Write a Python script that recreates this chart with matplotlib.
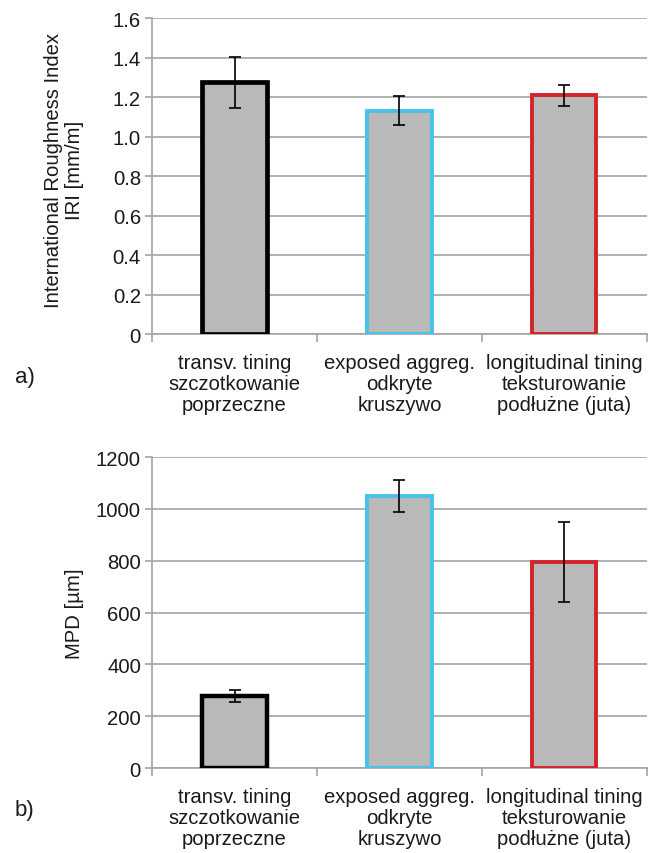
import matplotlib
matplotlib.use('Agg')
from matplotlib import pyplot as plt
import numpy as np

categories = ['transv. tining\nszczotkowanie\npoprzeczne',
              'exposed aggreg.\nodkryte\nkruszywo',
              'longitudinal tining\nteksturowanie\npodłużne (juta)']
iri = [1.275, 1.13, 1.21]
iri_err = [0.13, 0.073, 0.053]
mpd = [278, 1048, 795]
mpd_err = [23, 62, 155]
iri_ticks = [0, 0.2, 0.4, 0.6, 0.8, 1.0, 1.2, 1.4, 1.6]
iri_tick_labels = ['0', '0.2', '0.4', '0.6', '0.8', '1.0', '1.2', '1.4', '1.6']
mpd_ticks = [0, 200, 400, 600, 800, 1000, 1200]
edge_colors = ['#000000', '#45c3e8', '#d3242c']

plt.rcParams['font.family'] = ['Liberation Sans', 'DejaVu Sans']
grid_col = '#a3a3a3'
text_col = '#1a1a1a'
fs = 14.6


def draw_panel(ax, values, errors, ticks, tick_labels, ylabel, lw_edges, label_pos):
    x = np.arange(1, len(values) + 1)
    for xi, v, e, c, lw in zip(x, values, errors, edge_colors, lw_edges):
        ax.bar(xi, v, width=0.39, color='#b9b9b9', edgecolor=c, linewidth=lw, zorder=3)
        ax.errorbar(xi, v, yerr=e, fmt='none', ecolor='black', elinewidth=1.2,
                    capsize=4.5, capthick=1.2, zorder=4)
    ax.set_xlim(0.5, len(values) + 0.5)
    ax.set_ylim(ticks[0], ticks[-1])
    ax.set_yticks(ticks)
    ax.set_yticklabels(tick_labels)
    ax.yaxis.grid(True, color=grid_col, linewidth=1.2, zorder=0)
    ax.set_axisbelow(True)
    # boundaries between categories get the ticks, labels sit in the middle
    ax.set_xticks(np.arange(0.5, len(values) + 1, 1.0))
    ax.set_xticklabels([])
    ax.set_xticks(x, minor=True)
    ax.set_xticklabels(categories, minor=True, fontsize=fs, color=text_col,
                       linespacing=1.13)
    ax.tick_params(axis='x', which='major', length=6, width=1.2, color=grid_col,
                   direction='out')
    ax.tick_params(axis='x', which='minor', length=0, pad=14)
    ax.tick_params(axis='y', length=5, width=1.2, color=grid_col, labelsize=fs,
                   labelcolor=text_col, pad=3)
    for s in ['top', 'right']:
        ax.spines[s].set_visible(False)
    for s in ['left', 'bottom']:
        ax.spines[s].set_color(grid_col)
        ax.spines[s].set_linewidth(1.2)
    ax.set_ylabel(ylabel, fontsize=fs, color=text_col, linespacing=1.12)
    ax.yaxis.set_label_coords(*label_pos)


fig = plt.figure(figsize=(6.64, 8.54), dpi=100)
ax1 = fig.add_axes([0.229, 0.6077, 0.745, 0.370])
ax2 = fig.add_axes([0.229, 0.0995, 0.745, 0.3642])

draw_panel(ax1, iri, iri_err, iri_ticks, iri_tick_labels,
           'International Roughness Index\nIRI [mm/m]', [3.4, 2.8, 2.8], (-0.138, 0.52))
draw_panel(ax2, mpd, mpd_err, mpd_ticks, [str(t) for t in mpd_ticks],
           'MPD [µm]', [3.2, 2.8, 2.8], (-0.137, 0.5))

fig.text(0.022, 0.5585, 'a)', fontsize=16, color=text_col, va='center')
fig.text(0.022, 0.0515, 'b)', fontsize=16, color=text_col, va='center')

plt.savefig('out.png', dpi=100)
